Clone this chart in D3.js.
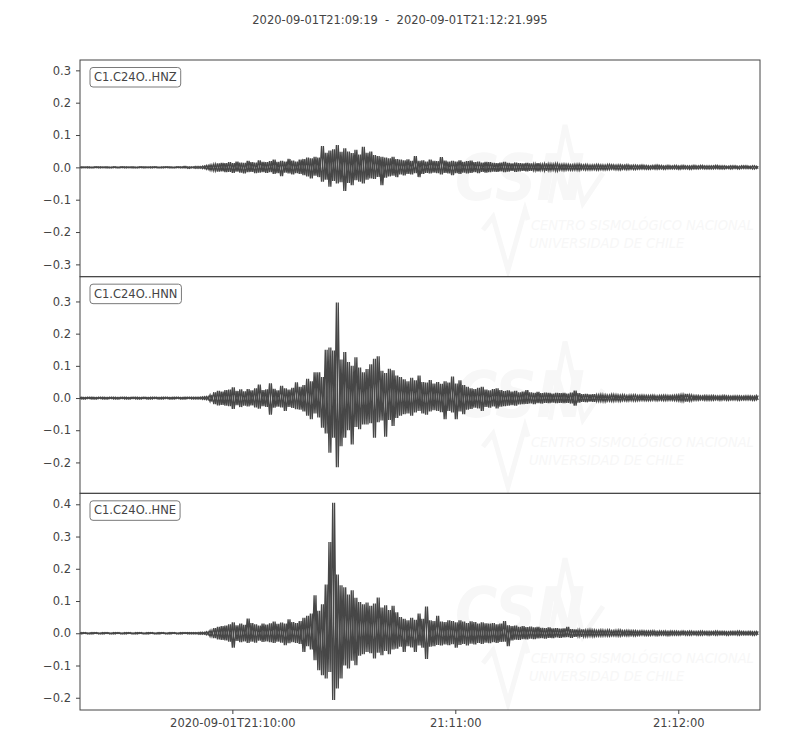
<!DOCTYPE html>
<html lang="en">
<head>
<meta charset="UTF-8">
<title>C1.C24O waveforms</title>
<style>
    body { margin: 0; background: #fff; }
    #chart { width: 800px; height: 750px; }
    text { font-family: "DejaVu Sans", sans-serif; }
    .mark { font-family: "Liberation Sans Narrow", "DejaVu Sans Condensed", sans-serif; font-style: italic; }
</style>
</head>
<body>
<div id="chart"></div>
<script src="https://cdn.jsdelivr.net/npm/d3@7"></script>
<script>
// time span of the plot
const startTime = "2020-09-01T21:09:19Z";
const endTime = "2020-09-01T21:12:21.995Z";
const binSeconds = 1;   // each value below is the max / min over one second

const channels = ["C1.C24O..HNZ", "C1.C24O..HNN", "C1.C24O..HNE"];
const yDomains = [[-0.338, 0.332], [-0.296, 0.377], [-0.238, 0.434]];
const yTicks = [
    [-0.3, -0.2, -0.1, 0.0, 0.1, 0.2, 0.3],
    [-0.2, -0.1, 0.0, 0.1, 0.2, 0.3],
    [-0.2, -0.1, 0.0, 0.1, 0.2, 0.3, 0.4]
];
const xTickTimes = ["2020-09-01T21:10:00Z", "2020-09-01T21:11:00Z", "2020-09-01T21:12:00Z"];
const xTickLabels = ["2020-09-01T21:10:00", "21:11:00", "21:12:00"];

// HNZ
const hnzMax = [
    0.002,0.001,0.002,0.001,0.002,0.002,0.001,0.002,0.001,0.002,
    0.001,0.002,0.002,0.001,0.002,0.001,0.002,0.002,0.001,0.002,
    0.002,0.001,0.002,0.002,0.002,0.001,0.002,0.002,0.003,0.002,
    0.002,0.003,0.003,0.004,0.006,0.008,0.010,0.012,0.014,0.013,
    0.016,0.013,0.018,0.015,0.014,0.020,0.016,0.015,0.022,0.017,
    0.016,0.019,0.024,0.017,0.020,0.018,0.026,0.021,0.018,0.024,
    0.026,0.030,0.028,0.033,0.030,0.066,0.045,0.052,0.056,0.069,
    0.048,0.059,0.049,0.044,0.054,0.040,0.064,0.045,0.049,0.038,
    0.035,0.033,0.030,0.028,0.033,0.026,0.024,0.022,0.025,0.020,
    0.035,0.020,0.022,0.018,0.024,0.020,0.019,0.032,0.021,0.018,
    0.020,0.018,0.022,0.017,0.019,0.021,0.016,0.018,0.015,0.017,
    0.016,0.014,0.013,0.015,0.017,0.014,0.012,0.015,0.013,0.012,
    0.014,0.012,0.011,0.013,0.010,0.012,0.011,0.010,0.012,0.009,
    0.010,0.009,0.008,0.009,0.010,0.008,0.009,0.007,0.008,0.009,
    0.008,0.007,0.009,0.008,0.007,0.008,0.007,0.008,0.006,0.007,
    0.006,0.007,0.006,0.005,0.006,0.007,0.006,0.005,0.006,0.005,
    0.006,0.005,0.006,0.005,0.005,0.006,0.005,0.006,0.005,0.005,
    0.005,0.006,0.005,0.005,0.004,0.005,0.005,0.004,0.005,0.005,
    0.004,0.005,0.004
];
const hnzMin = [
    -0.002,-0.001,-0.002,-0.002,-0.001,-0.002,-0.001,-0.002,-0.002,-0.001,
    -0.002,-0.001,-0.002,-0.001,-0.002,-0.002,-0.001,-0.002,-0.001,-0.002,
    -0.001,-0.002,-0.002,-0.001,-0.002,-0.002,-0.001,-0.002,-0.002,-0.003,
    -0.002,-0.003,-0.003,-0.004,-0.006,-0.009,-0.011,-0.013,-0.012,-0.015,
    -0.014,-0.017,-0.013,-0.016,-0.019,-0.015,-0.014,-0.018,-0.016,-0.015,
    -0.017,-0.015,-0.020,-0.018,-0.027,-0.016,-0.019,-0.022,-0.018,-0.020,
    -0.024,-0.028,-0.034,-0.026,-0.030,-0.044,-0.038,-0.060,-0.042,-0.050,
    -0.046,-0.073,-0.048,-0.055,-0.040,-0.044,-0.050,-0.038,-0.034,-0.036,
    -0.030,-0.055,-0.032,-0.028,-0.026,-0.030,-0.022,-0.025,-0.020,-0.022,
    -0.018,-0.030,-0.020,-0.017,-0.019,-0.016,-0.018,-0.022,-0.017,-0.019,
    -0.024,-0.018,-0.020,-0.016,-0.019,-0.017,-0.015,-0.018,-0.014,-0.016,
    -0.015,-0.013,-0.014,-0.012,-0.015,-0.013,-0.011,-0.014,-0.012,-0.011,
    -0.012,-0.011,-0.010,-0.012,-0.009,-0.011,-0.010,-0.009,-0.011,-0.008,
    -0.009,-0.008,-0.009,-0.008,-0.009,-0.007,-0.008,-0.008,-0.007,-0.008,
    -0.007,-0.008,-0.007,-0.006,-0.007,-0.008,-0.006,-0.007,-0.006,-0.007,
    -0.006,-0.005,-0.006,-0.006,-0.005,-0.006,-0.005,-0.006,-0.005,-0.005,
    -0.005,-0.006,-0.005,-0.005,-0.006,-0.005,-0.005,-0.004,-0.005,-0.005,
    -0.005,-0.004,-0.005,-0.005,-0.004,-0.005,-0.004,-0.005,-0.004,-0.004,
    -0.004,-0.005,-0.004
];

// HNN
const hnnMax = [
    0.003,0.002,0.003,0.003,0.002,0.003,0.003,0.002,0.003,0.003,
    0.002,0.003,0.003,0.002,0.003,0.003,0.002,0.003,0.002,0.003,
    0.003,0.002,0.003,0.003,0.002,0.003,0.003,0.002,0.003,0.003,
    0.003,0.003,0.003,0.004,0.005,0.010,0.018,0.022,0.020,0.025,
    0.026,0.033,0.022,0.027,0.021,0.028,0.024,0.030,0.042,0.025,
    0.027,0.046,0.029,0.024,0.038,0.030,0.026,0.032,0.049,0.035,
    0.040,0.060,0.052,0.080,0.080,0.065,0.150,0.157,0.148,0.297,
    0.120,0.143,0.112,0.100,0.127,0.095,0.080,0.090,0.105,0.122,
    0.130,0.085,0.078,0.091,0.086,0.070,0.065,0.058,0.052,0.063,
    0.055,0.070,0.050,0.048,0.056,0.045,0.050,0.044,0.052,0.048,
    0.067,0.045,0.055,0.040,0.035,0.030,0.028,0.032,0.035,0.026,
    0.024,0.028,0.030,0.025,0.022,0.024,0.020,0.022,0.018,0.020,
    0.025,0.018,0.016,0.019,0.015,0.017,0.016,0.014,0.016,0.015,
    0.016,0.014,0.017,0.023,0.015,0.012,0.013,0.011,0.012,0.010,
    0.011,0.010,0.009,0.011,0.010,0.009,0.010,0.008,0.009,0.010,
    0.008,0.009,0.008,0.008,0.009,0.007,0.008,0.009,0.008,0.008,
    0.009,0.010,0.011,0.013,0.010,0.008,0.008,0.007,0.008,0.007,
    0.008,0.007,0.007,0.008,0.007,0.006,0.007,0.007,0.006,0.007,
    0.007,0.006,0.008
];
const hnnMin = [
    -0.003,-0.003,-0.002,-0.003,-0.003,-0.002,-0.003,-0.003,-0.002,-0.003,
    -0.003,-0.002,-0.003,-0.003,-0.002,-0.003,-0.003,-0.002,-0.003,-0.003,
    -0.002,-0.003,-0.003,-0.002,-0.003,-0.003,-0.002,-0.003,-0.003,-0.002,
    -0.003,-0.003,-0.003,-0.004,-0.005,-0.011,-0.019,-0.023,-0.021,-0.024,
    -0.025,-0.034,-0.022,-0.028,-0.024,-0.026,-0.023,-0.029,-0.033,-0.025,
    -0.028,-0.052,-0.030,-0.027,-0.029,-0.040,-0.028,-0.031,-0.035,-0.036,
    -0.042,-0.055,-0.066,-0.048,-0.060,-0.092,-0.110,-0.170,-0.123,-0.215,
    -0.150,-0.123,-0.100,-0.144,-0.090,-0.097,-0.082,-0.082,-0.078,-0.123,
    -0.075,-0.070,-0.120,-0.068,-0.087,-0.062,-0.055,-0.050,-0.048,-0.055,
    -0.045,-0.040,-0.048,-0.052,-0.042,-0.038,-0.040,-0.044,-0.066,-0.040,
    -0.045,-0.066,-0.042,-0.050,-0.036,-0.034,-0.030,-0.032,-0.040,-0.028,
    -0.030,-0.026,-0.032,-0.027,-0.025,-0.024,-0.022,-0.024,-0.020,-0.019,
    -0.018,-0.017,-0.019,-0.016,-0.017,-0.015,-0.016,-0.014,-0.016,-0.015,
    -0.016,-0.015,-0.017,-0.024,-0.014,-0.012,-0.013,-0.011,-0.012,-0.010,
    -0.010,-0.011,-0.009,-0.010,-0.009,-0.010,-0.008,-0.009,-0.008,-0.009,
    -0.008,-0.007,-0.008,-0.008,-0.007,-0.008,-0.007,-0.008,-0.007,-0.007,
    -0.008,-0.009,-0.010,-0.011,-0.009,-0.007,-0.007,-0.006,-0.007,-0.007,
    -0.007,-0.006,-0.007,-0.006,-0.007,-0.006,-0.006,-0.007,-0.006,-0.006,
    -0.006,-0.007,-0.006
];

// HNE
const hneMax = [
    0.002,0.002,0.001,0.002,0.002,0.001,0.002,0.002,0.001,0.002,
    0.002,0.001,0.002,0.002,0.001,0.002,0.002,0.001,0.002,0.002,
    0.001,0.002,0.002,0.001,0.002,0.002,0.001,0.002,0.002,0.002,
    0.002,0.002,0.003,0.003,0.005,0.009,0.016,0.020,0.022,0.024,
    0.028,0.034,0.025,0.030,0.026,0.046,0.032,0.028,0.024,0.030,
    0.027,0.031,0.036,0.029,0.033,0.030,0.043,0.035,0.032,0.038,
    0.048,0.054,0.061,0.118,0.070,0.090,0.151,0.283,0.405,0.182,
    0.149,0.143,0.120,0.133,0.110,0.097,0.090,0.095,0.085,0.092,
    0.111,0.080,0.087,0.072,0.085,0.065,0.050,0.045,0.040,0.048,
    0.042,0.061,0.045,0.083,0.040,0.038,0.054,0.036,0.035,0.040,
    0.038,0.034,0.040,0.036,0.032,0.037,0.035,0.030,0.034,0.031,
    0.030,0.032,0.028,0.030,0.038,0.025,0.022,0.024,0.020,0.022,
    0.019,0.021,0.018,0.020,0.017,0.016,0.018,0.015,0.016,0.014,
    0.015,0.020,0.013,0.012,0.011,0.012,0.010,0.011,0.010,0.009,
    0.010,0.009,0.010,0.008,0.009,0.010,0.008,0.009,0.008,0.008,
    0.007,0.008,0.007,0.007,0.008,0.006,0.007,0.007,0.006,0.007,
    0.007,0.006,0.007,0.006,0.007,0.006,0.006,0.007,0.006,0.006,
    0.006,0.007,0.006,0.006,0.005,0.006,0.006,0.007,0.006,0.005,
    0.006,0.005,0.006
];
const hneMin = [
    -0.002,-0.001,-0.002,-0.002,-0.001,-0.002,-0.002,-0.001,-0.002,-0.002,
    -0.001,-0.002,-0.002,-0.001,-0.002,-0.002,-0.001,-0.002,-0.002,-0.001,
    -0.002,-0.002,-0.001,-0.002,-0.002,-0.001,-0.002,-0.002,-0.001,-0.002,
    -0.002,-0.002,-0.003,-0.003,-0.005,-0.010,-0.015,-0.019,-0.021,-0.022,
    -0.026,-0.045,-0.024,-0.028,-0.025,-0.030,-0.026,-0.029,-0.023,-0.027,
    -0.025,-0.028,-0.030,-0.026,-0.029,-0.037,-0.031,-0.028,-0.030,-0.033,
    -0.058,-0.040,-0.050,-0.084,-0.115,-0.130,-0.140,-0.120,-0.207,-0.171,
    -0.140,-0.100,-0.109,-0.085,-0.099,-0.070,-0.065,-0.058,-0.062,-0.078,
    -0.060,-0.068,-0.055,-0.065,-0.050,-0.048,-0.042,-0.058,-0.040,-0.044,
    -0.058,-0.038,-0.045,-0.080,-0.042,-0.040,-0.036,-0.038,-0.035,-0.037,
    -0.034,-0.045,-0.036,-0.033,-0.038,-0.032,-0.035,-0.030,-0.033,-0.029,
    -0.031,-0.028,-0.030,-0.027,-0.026,-0.040,-0.022,-0.020,-0.021,-0.018,
    -0.019,-0.017,-0.018,-0.016,-0.015,-0.017,-0.014,-0.015,-0.013,-0.014,
    -0.013,-0.012,-0.014,-0.011,-0.010,-0.011,-0.010,-0.009,-0.010,-0.009,
    -0.009,-0.008,-0.009,-0.008,-0.008,-0.009,-0.007,-0.008,-0.007,-0.008,
    -0.007,-0.006,-0.007,-0.007,-0.006,-0.007,-0.006,-0.006,-0.007,-0.006,
    -0.006,-0.006,-0.005,-0.006,-0.006,-0.005,-0.006,-0.006,-0.005,-0.006,
    -0.005,-0.006,-0.005,-0.005,-0.006,-0.005,-0.005,-0.006,-0.005,-0.005,
    -0.005,-0.006,-0.005
];

const traceMax = [hnzMax, hnnMax, hneMax];
const traceMin = [hnzMin, hnnMin, hneMin];

// layout
const W = 800, H = 750;
const margin = { top: 60, right: 40, bottom: 40, left: 80 };
const plotW = W - margin.left - margin.right;
const panelH = (H - margin.top - margin.bottom) / channels.length;
const ink = "#444";
const traceColor = "#474747";
const wmColor = "#f7f7f7";

const svg = d3.select("#chart").append("svg")
    .attr("width", W)
    .attr("height", H);

svg.append("text")
    .attr("x", W / 2)
    .attr("y", 24)
    .attr("text-anchor", "middle")
    .attr("font-size", 11.5)
    .attr("fill", ink)
    .style("white-space", "pre")
    .text(startTime.replace("Z", "") + "  -  " + endTime.replace("Z", ""));

const t0 = new Date(startTime);
const x = d3.scaleUtc()
    .domain([t0, new Date(endTime)])
    .range([0, plotW]);

// faint CSN logo behind each trace
function watermark(g) {
    const wm = g.append("g").attr("fill", wmColor).attr("stroke", "none");
    wm.append("text").attr("class", "mark")
        .attr("x", 375).attr("y", 140)
        .attr("font-size", 64).attr("font-weight", "bold")
        .text("CSN");
    const line = d3.line();
    wm.append("path")
        .attr("d", line([[470, 143], [485, 65], [503, 143], [523, 113]]))
        .attr("fill", "none").attr("stroke", wmColor).attr("stroke-width", 5);
    wm.append("path")
        .attr("d", line([[403, 170], [413, 157], [428, 210], [445, 150], [448, 160]]))
        .attr("fill", "none").attr("stroke", wmColor).attr("stroke-width", 5);
    wm.append("text").attr("class", "mark")
        .attr("x", 451).attr("y", 170).attr("font-size", 14.5)
        .text("CENTRO SISMOLÓGICO NACIONAL");
    wm.append("text").attr("class", "mark")
        .attr("x", 449).attr("y", 188).attr("font-size", 14.5)
        .text("UNIVERSIDAD DE CHILE");
}

channels.forEach((name, k) => {
    const g = svg.append("g")
        .attr("transform", `translate(${margin.left},${margin.top + k * panelH})`);

    const y = d3.scaleLinear()
        .domain(yDomains[k])
        .range([panelH, 0]);

    g.append("clipPath").attr("id", "clip" + k)
        .append("rect").attr("width", plotW).attr("height", panelH);

    const body = g.append("g").attr("clip-path", `url(#clip${k})`);
    watermark(body);

    const half = binSeconds * 500;
    // two zigzags through the max and min of every bin, out of phase,
    // so the band reads as a dense trace with the peaks as needles
    const zigA = [], zigB = [];
    traceMax[k].forEach((hi, i) => {
        const tb = t0.getTime() + i * binSeconds * 1000;
        const lo = traceMin[k][i];
        zigA.push([x(new Date(tb)), y(hi)], [x(new Date(tb + half)), y(lo)]);
        zigB.push([x(new Date(tb)), y(lo)], [x(new Date(tb + half)), y(hi)]);
    });
    [zigA, zigB].forEach(pts => {
        body.append("path")
            .attr("d", d3.line()(pts))
            .attr("fill", "none")
            .attr("stroke", traceColor)
            .attr("stroke-width", 1.3);
    });

    // y axis
    const ya = g.append("g")
        .call(d3.axisLeft(y).tickValues(yTicks[k]).tickFormat(d3.format(".1f"))
            .tickSizeInner(4).tickSizeOuter(0).tickPadding(5));
    ya.select(".domain").remove();
    ya.selectAll("line").attr("stroke", ink);
    ya.selectAll("text").attr("fill", ink).attr("font-size", 11.5).attr("font-family", "DejaVu Sans");

    // frame
    g.append("rect")
        .attr("width", plotW).attr("height", panelH)
        .attr("fill", "none").attr("stroke", ink).attr("stroke-width", 1);

    // station label
    const lab = g.append("g");
    const txt = lab.append("text")
        .attr("x", 14).attr("y", 21)
        .attr("font-size", 11.5).attr("fill", ink)
        .text(name);
    const len = txt.node().getComputedTextLength();
    lab.insert("rect", "text")
        .attr("x", 10).attr("y", 7.5)
        .attr("width", len + 8).attr("height", 19.5)
        .attr("rx", 3)
        .attr("fill", "#fff").attr("stroke", "#7a7a7a").attr("stroke-width", 1);

    if (k === channels.length - 1) {
        const xa = g.append("g")
            .attr("transform", `translate(0,${panelH})`)
            .call(d3.axisBottom(x)
                .tickValues(xTickTimes.map(s => new Date(s)))
                .tickFormat((d, i) => xTickLabels[i])
                .tickSizeInner(4).tickSizeOuter(0).tickPadding(5));
        xa.select(".domain").remove();
        xa.selectAll("line").attr("stroke", ink);
        xa.selectAll("text").attr("fill", ink).attr("font-size", 11.5).attr("font-family", "DejaVu Sans");
    }
});
</script>
</body>
</html>
